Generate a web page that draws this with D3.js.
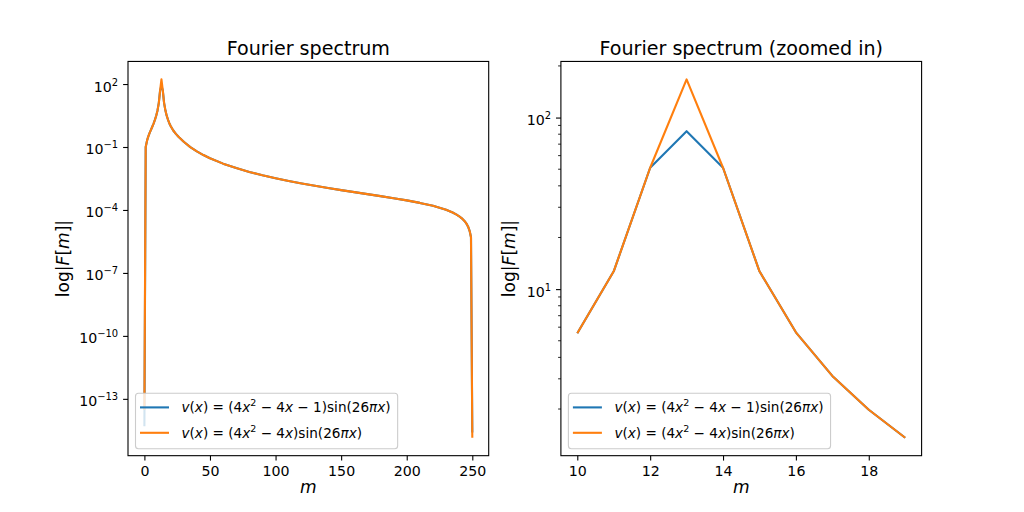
<!DOCTYPE html>
<html>
<head>
<meta charset="utf-8">
<script src="https://cdn.jsdelivr.net/npm/d3@7"></script>
<style>
  html, body { margin: 0; padding: 0; background: #fff; }
  svg { display: block; }
  text { font-family: "DejaVu Sans", sans-serif; fill: #000; }
</style>
</head>
<body>
<svg id="chart" width="1024" height="512"></svg>
<script>
// ---------- DATA ----------
const mLeft = [0,1,2,3,4,5,6,7,8,9,10,11,12,13,14,15,16,17,18,19,20,22,24,26,28,30,35,40,45,50,
  60,70,80,90,100,110,120,130,140,150,160,170,180,190,200,210,220,225,230,235,238,240,242,244,245,246,247,248,249,250];
const orangeLeft = [3e-14,0.1,0.2,0.32,0.47,0.66,0.92,1.3,1.95,3.1,5.53,12.7,51,167,51,12.7,5.6,3.12,1.98,1.36,1.0,0.61,0.42,0.306,0.234,0.177,0.099,0.0617,0.0413,0.0291,
  0.0161,0.00986,0.00649,0.00449,0.00323,0.0024,0.00183,0.00142,0.00111,0.000884,0.000706,0.000566,0.000455,0.000362,0.000287,0.000217,0.000157,0.000128,0.000102,0.0000754,0.0000601,0.00005,0.0000399,0.0000299,0.0000249,0.0000199,0.0000149,0.0000099,0.000005,1.4e-15];
const blueLeft = [5e-15,0.1,0.2,0.32,0.47,0.66,0.92,1.3,1.95,3.1,5.53,12.7,51,83.3,51,12.7,5.6,3.12,1.98,1.36,1.0,0.61,0.42,0.306,0.234,0.177,0.099,0.0617,0.0413,0.0291,
  0.0161,0.00986,0.00649,0.00449,0.00323,0.0024,0.00183,0.00142,0.00111,0.000884,0.000706,0.000566,0.000455,0.000362,0.000287,0.000217,0.000157,0.000128,0.000102,0.0000754,0.0000601,0.00005,0.0000399,0.0000299,0.0000249,0.0000199,0.0000149,0.0000099,0.000005,2.5e-15];

const mZoom = [10,11,12,13,14,15,16,17,18,19];
const orangeZoom = [5.53,12.7,51,167,51,12.7,5.6,3.12,1.98,1.36];
const blueZoom = [5.53,12.7,51,83.3,51,12.7,5.6,3.12,1.98,1.36];

const xTicksLeft = [0,50,100,150,200,250];
const yTicksLeftExp = [2,-1,-4,-7,-10,-13];
const xTicksRight = [10,12,14,16,18];
const yTicksRightExp = [1,2];

const titles = ["Fourier spectrum", "Fourier spectrum (zoomed in)"];
const legendLabels = [
  [["v","i"],["(",""],["x","i"],[") = (4",""],["x","i"],["2","s"],[" − 4",""],["x","i"],[" − 1)sin(26",""],["π","i"],["x","i"],[")",""]],
  [["v","i"],["(",""],["x","i"],[") = (4",""],["x","i"],["2","s"],[" − 4",""],["x","i"],[")sin(26",""],["π","i"],["x","i"],[")",""]]
];
const colors = ["#1f77b4", "#ff7f0e"];

// ---------- LAYOUT ----------
const svg = d3.select("#chart");
const axTop = 61.44, axBottom = 455.68;
const panels = [
  {x0: 128, x1: 488.7, ms: mLeft, series: [blueLeft, orangeLeft], xt: xTicksLeft, yt: yTicksLeftExp, minor: false, ylab: 59},
  {x0: 560.9, x1: 921.6, ms: mZoom, series: [blueZoom, orangeZoom], xt: xTicksRight, yt: yTicksRightExp, minor: true, ylab: 45.5}
];

function pad(lo, hi) { const d = (hi - lo) * 0.05; return [lo - d, hi + d]; }

function richText(sel, parts, size) {
  parts.forEach(([t, st]) => {
    const ts = sel.append("tspan").text(t);
    if (st === "i") ts.attr("font-style", "italic");
    if (st === "s") ts.attr("font-size", size * 0.7).attr("baseline-shift", size * 0.42 + "px");
  });
}
function supLabel(sel, base, exp, size) {
  sel.append("tspan").text(base);
  sel.append("tspan").text(exp).attr("font-size", size * 0.7).attr("baseline-shift", size * 0.42 + "px");
}

panels.forEach((p, i) => {
  const all = p.series.flat();
  const xr = pad(d3.min(p.ms), d3.max(p.ms));
  const lyr = pad(Math.log10(d3.min(all)), Math.log10(d3.max(all)));
  const x = d3.scaleLinear().domain(xr).range([p.x0, p.x1]);
  const y = d3.scaleLog().domain([Math.pow(10, lyr[0]), Math.pow(10, lyr[1])]).range([axBottom, axTop]);
  const g = svg.append("g");

  // lines
  const line = d3.line().x((d, k) => x(p.ms[k])).y(d => y(d));
  p.series.forEach((s, k) => {
    g.append("path").datum(s).attr("d", line)
      .attr("fill", "none").attr("stroke", colors[k]).attr("stroke-width", 2.1)
      .attr("stroke-linejoin", "round").attr("stroke-linecap", "butt");
  });

  // x axis
  const xa = g.append("g").attr("transform", `translate(0,${axBottom})`)
    .call(d3.axisBottom(x).tickValues(p.xt).tickSize(4.9).tickSizeOuter(0).tickPadding(4.9));
  xa.select(".domain").remove();
  xa.selectAll(".tick line").attr("stroke", "#000").attr("stroke-width", 1.1);
  xa.selectAll(".tick text").attr("font-size", 14.2).attr("font-family", "DejaVu Sans").attr("fill", "#262626").attr("dy", "0.71em");

  // y axis
  const ya = g.append("g").attr("transform", `translate(${p.x0},0)`)
    .call(d3.axisLeft(y).tickValues(p.yt.map(e => Math.pow(10, e))).tickSize(4.9).tickSizeOuter(0).tickFormat(() => ""));
  ya.select(".domain").remove();
  ya.selectAll(".tick line").attr("stroke", "#000").attr("stroke-width", 1.1);
  ya.selectAll(".tick text").remove();
  p.yt.forEach(e => {
    const t = g.append("text").attr("x", p.x0 - 9.8).attr("y", y(Math.pow(10, e)) + 7.5)
      .attr("text-anchor", "end").attr("font-size", 14.2).attr("fill", "#262626");
    supLabel(t, "10", e < 0 ? "−" + Math.abs(e) : String(e), 14.2);
  });
  if (p.minor) {
    const dom = y.domain();
    const minors = [];
    for (let dec = Math.floor(Math.log10(dom[0])); dec <= Math.ceil(Math.log10(dom[1])); dec++) {
      for (let k = 2; k <= 9; k++) { const v = k * Math.pow(10, dec); if (v >= dom[0] && v <= dom[1]) minors.push(v); }
    }
    g.selectAll(".minor").data(minors).enter().append("line")
      .attr("x1", p.x0).attr("x2", p.x0 - 2.8).attr("y1", d => y(d)).attr("y2", d => y(d))
      .attr("stroke", "#000").attr("stroke-width", 0.85);
  }

  // frame
  g.append("rect").attr("x", p.x0).attr("y", axTop).attr("width", p.x1 - p.x0).attr("height", axBottom - axTop)
    .attr("fill", "none").attr("stroke", "#000").attr("stroke-width", 1.1);

  // title
  const cx = (p.x0 + p.x1) / 2;
  g.append("text").attr("x", cx).attr("y", 54.5).attr("text-anchor", "middle").attr("font-size", 19.1).text(titles[i]);
  // x label
  g.append("text").attr("x", cx).attr("y", 492.5).attr("text-anchor", "middle").attr("font-size", 17.07)
    .attr("font-style", "italic").text("m");
  // y label
  const yl = g.append("text").attr("transform", `translate(${p.x0 - p.ylab},${(axTop + axBottom) / 2}) rotate(-90)`)
    .attr("text-anchor", "middle").attr("font-size", 17.07);
  richText(yl, [["log|",""],["F","i"],["[",""],["m","i"],["]|",""]], 17.07);

  // legend
  const fs = 13.6;
  const lx = p.x0 + 7.5, ly = 393.2;
  const lg = g.append("g");
  const box = lg.append("rect").attr("x", lx).attr("y", ly).attr("height", 55.6).attr("rx", 3).attr("ry", 3)
    .attr("fill", "#fff").attr("fill-opacity", 0.8).attr("stroke", "#ccc").attr("stroke-width", 1.1);
  let maxW = 0;
  legendLabels.forEach((lab, k) => {
    const yy = ly + 14.2 + k * 25.4;
    lg.append("line").attr("x1", lx + 4.5).attr("x2", lx + 33.5).attr("y1", yy).attr("y2", yy)
      .attr("stroke", colors[k]).attr("stroke-width", 2.1);
    const t = lg.append("text").attr("x", lx + 46).attr("y", yy + 5).attr("font-size", fs).attr("fill", "#000");
    richText(t, lab, fs);
    maxW = Math.max(maxW, t.node().getComputedTextLength());
  });
  box.attr("width", 46 + maxW + 7);
});
</script>
</body>
</html>
